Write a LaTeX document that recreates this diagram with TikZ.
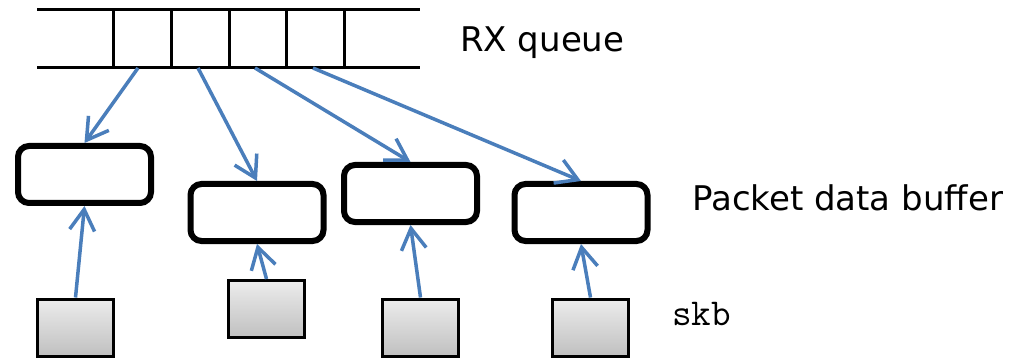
\documentclass[tikz,border=0pt]{standalone}
\usepackage{fontspec}
\newfontfamily\labelfont{DejaVu Sans}
\usetikzlibrary{arrows.meta}
\definecolor{linkblue}{RGB}{74,126,187}
\definecolor{skbtop}{RGB}{236,236,236}
\definecolor{skbbottom}{RGB}{192,192,192}
\tikzset{
  buffer/.style={draw=black, line width=6pt, rounded corners=11pt,
    minimum width=133pt, minimum height=57pt, inner sep=0pt, fill=white},
  skbbox/.style={draw=black, line width=3pt, minimum width=76pt,
    minimum height=57pt, inner sep=0pt,
    top color=skbtop, bottom color=skbbottom},
  link/.style={draw=linkblue, line width=3.5pt,
    -{Straight Barb[length=21pt, width=25pt, line width=3.5pt]}},
  queueline/.style={line width=3pt, draw=black},
  caption/.style={anchor=base west, inner sep=0pt,
    font=\labelfont\fontsize{34}{40}\selectfont},
}
\begin{document}
\begin{tikzpicture}[x=1pt, y=-1pt]
  \useasboundingbox (0,0) rectangle (1014,358);

  % receive ring: two rails and the slot dividers
  \draw[queueline] (37,10) -- (420,10);
  \draw[queueline] (37,68) -- (420,68);
  \foreach \sx in {113,171,229,286,344}
    \draw[queueline] (\sx,10) -- (\sx,68);

  % descriptor slots where the links leave the ring
  \coordinate (q1) at (138,68);
  \coordinate (q2) at (198,68);
  \coordinate (q3) at (255,68);
  \coordinate (q4) at (313,68);

  % packet data buffers
  \node[buffer] (b1) at (84.5,174.5) {};
  \node[buffer] (b2) at (257,212.5) {};
  \node[buffer] (b3) at (410.5,193.5) {};
  \node[buffer] (b4) at (581,212.5) {};

  % socket buffers
  \node[skbbox] (s1) at (75.5,327.5) {};
  \node[skbbox] (s2) at (266.5,309) {};
  \node[skbbox] (s3) at (420.5,327.5) {};
  \node[skbbox] (s4) at (590.5,327.5) {};

  % ring slots point at the buffers
  \draw[link] (q1) -- (b1.north);
  \draw[link] (q2) -- (b2.north);
  \draw[link] (q3) -- (b3.north);
  \draw[link] (q4) -- (b4.north);

  % each skb points at its buffer
  \draw[link] (s1.north) -- (b1.south);
  \draw[link] (s2.north) -- (b2.south);
  \draw[link] (s3.north) -- (b3.south);
  \draw[link] (s4.north) -- (b4.south);

  % labels
  \node[caption] (lq) at (460,52) {RX queue};
  \node[caption] (lb) at (692,211) {Packet data buffer};
  \node[anchor=base west, inner sep=0pt,
    font=\ttfamily\fontsize{38}{44}\selectfont] (ls) at (672,325) {skb};
\end{tikzpicture}
\end{document}
